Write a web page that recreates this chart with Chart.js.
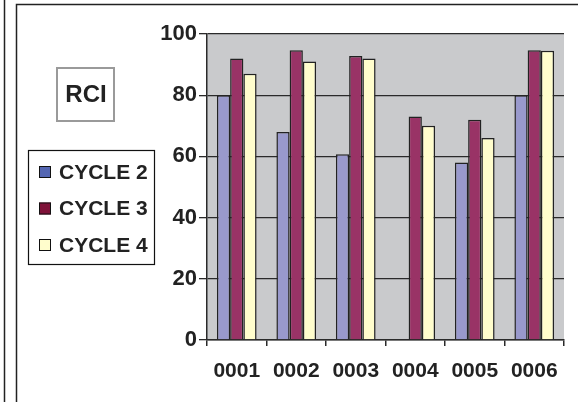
<!DOCTYPE html>
<html>
<head>
<meta charset="utf-8">
<script src="https://cdn.jsdelivr.net/npm/chart.js@4/dist/chart.umd.min.js"></script>
<style>
html,body{margin:0;padding:0;background:#fff;}
#wrap{position:relative;width:578px;height:402px;}
</style>
</head>
<body>
<div id="wrap"><canvas id="c" width="578" height="402"></canvas></div>
<script>
const categories = ["0001", "0002", "0003", "0004", "0005", "0006"];
const seriesNames = ["CYCLE 2", "CYCLE 3", "CYCLE 4"];
const cycle2 = [80, 68, 60.7, null, 58, 80];
const cycle3 = [92, 94.7, 92.8, 73, 72, 94.7];
const cycle4 = [87, 91, 92, 70, 66, 94.5];
const yTicks = [0, 20, 40, 60, 80, 100];
const chartTitle = "RCI";

const barColors = ["#9999CC", "#993366", "#FFFDCC"];
const legendColors = ["#5466B2", "#7F1138", "#FFFDCC"];
const FONT = "'Liberation Sans', Arial, sans-serif";

const decorPlugin = {
  id: 'decor',
  beforeDraw(chart) {
    const ctx = chart.ctx, a = chart.chartArea;
    ctx.save();
    ctx.fillStyle = '#fff';
    ctx.fillRect(0, 0, chart.width, chart.height);
    ctx.fillStyle = '#C9CACC';
    ctx.fillRect(a.left, a.top, a.right - a.left, a.bottom - a.top);
    ctx.restore();
  },
  afterDraw(chart) {
    const ctx = chart.ctx;
    ctx.save();
    // frame lines
    ctx.strokeStyle = '#222';
    ctx.lineWidth = 1.5;
    ctx.beginPath();
    ctx.moveTo(4.5, 0); ctx.lineTo(4.5, 402);
    ctx.moveTo(16.5, 402); ctx.lineTo(16.5, 4.5); ctx.lineTo(578, 4.5);
    ctx.stroke();
    // title box
    ctx.fillStyle = '#fff';
    ctx.fillRect(57, 68, 57, 53);
    ctx.strokeStyle = '#9a9a9a';
    ctx.lineWidth = 2;
    ctx.strokeRect(57, 68, 57, 53);
    ctx.fillStyle = '#222';
    ctx.font = 'bold 24px ' + FONT;
    ctx.textAlign = 'center';
    ctx.textBaseline = 'middle';
    ctx.fillText(chartTitle, 86, 95.5);
    // legend box
    ctx.fillStyle = '#fff';
    ctx.fillRect(28.5, 150.5, 126, 114);
    ctx.strokeStyle = '#111';
    ctx.lineWidth = 1.2;
    ctx.strokeRect(28.5, 150.5, 126, 114);
    const rows = [172, 208.5, 245];
    ctx.font = 'bold 21px ' + FONT;
    ctx.textAlign = 'left';
    chart.data.datasets.forEach((ds, i) => {
      const y = rows[i];
      ctx.fillStyle = legendColors[i];
      ctx.fillRect(39, y - 6, 12, 12);
      ctx.strokeStyle = '#111';
      ctx.lineWidth = 1;
      ctx.strokeRect(39.5, y - 5.5, 11, 11);
      ctx.fillStyle = '#222';
      ctx.fillText(ds.label, 59, y + 1);
    });
    ctx.restore();
  }
};

new Chart(document.getElementById('c'), {
  type: 'bar',
  data: {
    labels: categories,
    datasets: [cycle2, cycle3, cycle4].map((d, i) => ({
      label: seriesNames[i],
      data: d,
      backgroundColor: barColors[i],
      borderColor: '#222',
      borderWidth: 1.5,
      categoryPercentage: 0.667,
      barPercentage: 1.0
    }))
  },
  options: {
    responsive: false,
    animation: false,
    devicePixelRatio: 1,
    layout: { padding: { left: 0, right: 14, top: 34, bottom: 0 } },
    plugins: { legend: { display: false }, title: { display: false }, tooltip: { enabled: false } },
    scales: {
      y: {
        min: 0, max: 100,
        afterFit(s) { s.width = 207; },
        afterBuildTicks(s) { s.ticks = yTicks.map(v => ({ value: v })); },
        ticks: { color: '#222', font: { family: FONT, size: 22, weight: 'bold' }, padding: 2 },
        grid: { color: '#2a2a2a', lineWidth: 1.3, tickLength: 8, drawOnChartArea: true },
        border: { color: '#2a2a2a', width: 1.5 }
      },
      x: {
        afterFit(s) { s.height = 62; },
        ticks: { color: '#222', font: { family: FONT, size: 21, weight: 'bold' }, padding: 13 },
        grid: { color: '#2a2a2a', lineWidth: 1.5, tickLength: 6, drawOnChartArea: false, offset: true },
        border: { color: '#2a2a2a', width: 1.5 }
      }
    }
  },
  plugins: [decorPlugin]
});
</script>
</body>
</html>
